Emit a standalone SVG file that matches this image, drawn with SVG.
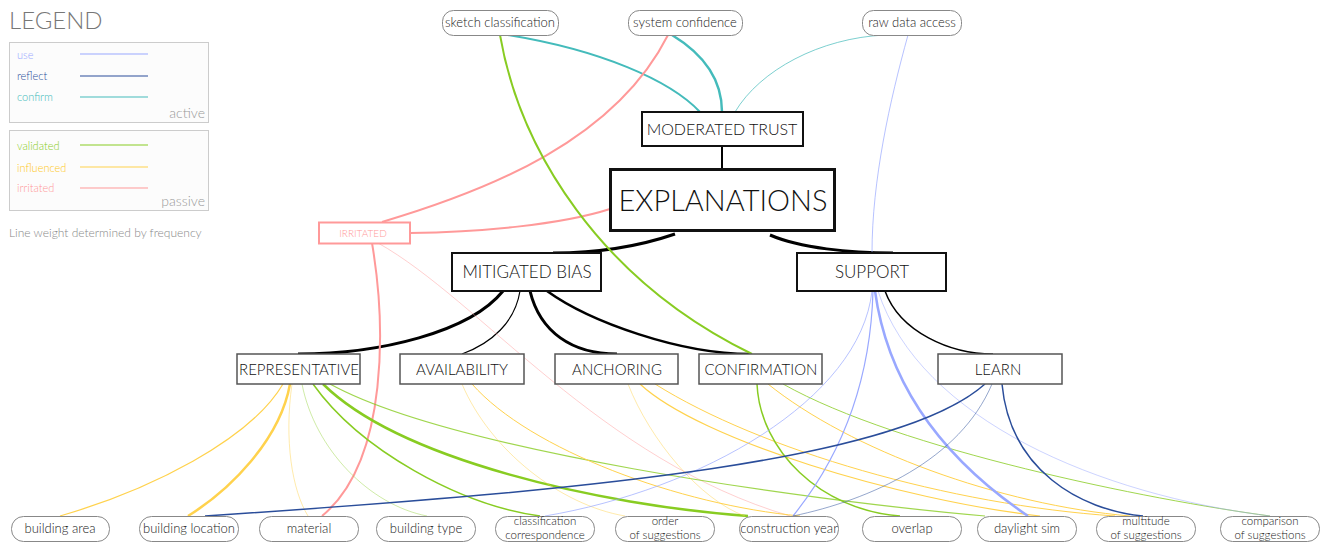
<svg xmlns="http://www.w3.org/2000/svg" width="1327" height="542" viewBox="0 0 1327 542">
<style>
text{font-family:Lato,"Open Sans","Liberation Sans",sans-serif;font-weight:300}
.pill rect{fill:#fff;stroke:#888;stroke-width:1}
.pill text{font-size:13px;fill:#222;text-anchor:middle}
.pill text.two{font-size:11.5px}
.box rect{fill:#fff;stroke:#111;stroke-width:2}
.box text{fill:#111;text-anchor:middle}
.mid rect{fill:#fff;stroke:#555;stroke-width:1.5}
.mid text{font-size:15px;fill:#111;text-anchor:middle}
.c path{fill:none}
.blk{stroke:#000}
.use{stroke:#99a8ff}
.refl{stroke:#2a4d9a}
.conf{stroke:#44bbbb}
.val{stroke:#88cc22}
.inf{stroke:#ffd24d}
.irr{stroke:#ff9999}
.lg{font-size:11px}
</style>
<g id="legend">
<text x="9" y="29" style="font-size:24px;fill:#777">LEGEND</text>
<rect x="9.5" y="42.5" width="199" height="80" fill="#fcfcfc" stroke="#ccc"/>
<text x="17" y="59" class="lg" fill="#99a8ff">use</text>
<line x1="80" y1="54" x2="148" y2="54" class="use"/>
<text x="17" y="80" class="lg" fill="#2a4d9a">reflect</text>
<line x1="80" y1="76" x2="148" y2="76" class="refl"/>
<text x="17" y="101" class="lg" fill="#44bbbb">confirm</text>
<line x1="80" y1="97" x2="148" y2="97" class="conf"/>
<text x="205" y="118" style="font-size:14px;fill:#999;text-anchor:end">active</text>
<rect x="9.5" y="130.5" width="199" height="80" fill="#fcfcfc" stroke="#ccc"/>
<text x="17" y="150" class="lg" fill="#88cc22">validated</text>
<line x1="80" y1="145" x2="148" y2="145" class="val"/>
<text x="17" y="172" class="lg" fill="#ffc820">influenced</text>
<line x1="80" y1="167" x2="148" y2="167" class="inf"/>
<text x="17" y="192" class="lg" fill="#ff9999">irritated</text>
<line x1="80" y1="188" x2="148" y2="188" class="irr"/>
<text x="205" y="206" style="font-size:14px;fill:#999;text-anchor:end">passive</text>
<text x="9" y="237" style="font-size:12px;fill:#888">Line weight determined by frequency</text>
</g>
<g id="connectors" class="c">
<path class="blk" stroke-width="2" d="M722,146 L722,169"/>
<path class="blk" stroke-width="3" d="M675,234 C640,246 600,253 553,253"/>
<path class="blk" stroke-width="3" d="M770,235 C800,248 850,253 893,253"/>
<path class="blk" stroke-width="3" d="M503,291 C470,332 380,354 298,354"/>
<path class="blk" stroke-width="1.2" d="M520,291 C515,322 492,343 462,354"/>
<path class="blk" stroke-width="3" d="M530,291 C540,332 572,354 617,354"/>
<path class="blk" stroke-width="2.5" d="M547,291 C590,322 680,354 750,354"/>
<path class="blk" stroke-width="1.5" d="M885,291 C900,332 950,354 993,354"/>
<path class="conf" stroke-width="2" d="M508,35 C600,50 670,80 700,112"/>
<path class="conf" stroke-width="2.5" d="M672,35 C705,55 722,80 722,112"/>
<path class="conf" stroke-width="1" stroke-opacity="0.7" d="M885,35 C820,38 760,70 735,112"/>
<path class="irr" stroke-width="2" d="M668,35 C615,140 490,190 382,222"/>
<path class="irr" stroke-width="2" d="M610,209 C560,225 480,232 410,233"/>
<path class="irr" stroke-width="2" d="M372,243 C385,320 390,460 322,516"/>
<path class="irr" stroke-width="0.8" stroke-opacity="0.6" d="M378,243 C480,300 600,460 790,516"/>
<path class="val" stroke-width="2" d="M500,35 C520,150 600,280 752,354"/>
<path class="inf" stroke-width="1.2" d="M283,384 C250,440 150,490 60,516"/>
<path class="inf" stroke-width="2.5" d="M290,384 C280,440 230,490 188,516"/>
<path class="inf" stroke-width="0.8" stroke-opacity="0.6" d="M292,384 C284,440 292,490 308,516"/>
<path class="val" stroke-width="0.8" stroke-opacity="0.5" d="M302,384 C315,450 370,505 427,516"/>
<path class="val" stroke-width="1.5" d="M313,384 C360,450 460,505 540,516"/>
<path class="val" stroke-width="2.5" d="M323,384 C400,460 600,505 748,516"/>
<path class="val" stroke-width="1.2" stroke-opacity="0.8" d="M330,384 C450,450 800,500 985,516"/>
<path class="inf" stroke-width="0.8" stroke-opacity="0.6" d="M462,384 C490,450 560,505 625,516"/>
<path class="inf" stroke-width="1" d="M472,384 C530,450 680,505 800,516"/>
<path class="inf" stroke-width="0.8" stroke-opacity="0.6" d="M628,384 C650,440 700,500 745,516"/>
<path class="inf" stroke-width="1.2" d="M640,384 C700,440 900,500 1040,516"/>
<path class="inf" stroke-width="1" d="M655,384 C760,450 950,505 1115,516"/>
<path class="val" stroke-width="1.5" d="M757,384 C760,450 820,510 900,516"/>
<path class="inf" stroke-width="1" d="M768,384 C850,450 1000,505 1130,516"/>
<path class="val" stroke-width="1" stroke-opacity="0.8" d="M783,384 C900,450 1150,500 1270,516"/>
<path class="use" stroke-width="1" stroke-opacity="0.7" d="M908,35 C890,100 872,180 872,253"/>
<path class="use" stroke-width="1" stroke-opacity="0.7" d="M872,291 C860,400 700,490 545,516"/>
<path class="use" stroke-width="1.2" d="M873,291 C870,400 830,470 793,516"/>
<path class="use" stroke-width="2.5" stroke="#8899ff" d="M875,291 C890,400 960,470 1028,516"/>
<path class="use" stroke-width="1" stroke-opacity="0.5" d="M878,291 C920,420 1100,495 1270,516"/>
<path class="refl" stroke-width="1.5" d="M985,384 C900,460 600,490 205,516"/>
<path class="refl" stroke-width="1" stroke-opacity="0.5" d="M992,384 C960,460 870,500 793,516"/>
<path class="refl" stroke-width="1.5" d="M1002,384 C1010,470 1080,510 1143,516"/>
</g>
<g id="n-sketch" class="pill"><rect x="442.5" y="10.5" width="116" height="25" rx="11"/><text x="500" y="27">sketch classification</text></g>
<g id="n-sysconf" class="pill"><rect x="628.5" y="10.5" width="114" height="25" rx="11"/><text x="685" y="27">system confidence</text></g>
<g id="n-raw" class="pill"><rect x="862.5" y="10.5" width="99" height="25" rx="11"/><text x="912" y="27">raw data access</text></g>
<g id="n-trust" class="box"><rect x="642" y="112" width="161" height="34"/><text x="722" y="135" style="font-size:16px">MODERATED TRUST</text></g>
<g id="n-expl" class="box"><rect x="610.5" y="169.5" width="224" height="61" style="stroke-width:3"/><text x="723" y="211" style="font-size:29px">EXPLANATIONS</text></g>
<g id="n-irritated"><rect x="319" y="222.5" width="91" height="21" fill="#fff" stroke="#ff9999" stroke-width="2"/><text x="363" y="237" style="font-size:10px;fill:#ff9999;text-anchor:middle">IRRITATED</text></g>
<g id="n-bias" class="box"><rect x="452" y="253" width="149" height="38"/><text x="527" y="278" style="font-size:17px">MITIGATED BIAS</text></g>
<g id="n-support" class="box"><rect x="797" y="253" width="149" height="38"/><text x="872" y="278" style="font-size:17px">SUPPORT</text></g>
<g id="n-repr" class="mid"><rect x="237" y="354" width="123" height="30"/><text x="299" y="375">REPRESENTATIVE</text></g>
<g id="n-avail" class="mid"><rect x="400" y="354" width="124" height="30"/><text x="462" y="375">AVAILABILITY</text></g>
<g id="n-anch" class="mid"><rect x="555" y="354" width="123" height="30"/><text x="617" y="375">ANCHORING</text></g>
<g id="n-confirm" class="mid"><rect x="699" y="354" width="123" height="30"/><text x="761" y="375">CONFIRMATION</text></g>
<g id="n-learn" class="mid"><rect x="938" y="354" width="124" height="30"/><text x="998" y="375">LEARN</text></g>
<g id="n-barea" class="pill"><rect x="11.5" y="516.5" width="98" height="25" rx="12"/><text x="60" y="533">building area</text></g>
<g id="n-bloc" class="pill"><rect x="139.5" y="516.5" width="99" height="25" rx="12"/><text x="189" y="533">building location</text></g>
<g id="n-material" class="pill"><rect x="259.5" y="516.5" width="99" height="25" rx="12"/><text x="309" y="533">material</text></g>
<g id="n-btype" class="pill"><rect x="376.5" y="516.5" width="99" height="25" rx="12"/><text x="426" y="533">building type</text></g>
<g id="n-classcorr" class="pill"><rect x="495.5" y="516.5" width="99" height="25" rx="12"/><text class="two" x="545" y="525">classification</text><text class="two" x="545" y="539">correspondence</text></g>
<g id="n-order" class="pill"><rect x="615.5" y="516.5" width="99" height="25" rx="12"/><text class="two" x="665" y="525">order</text><text class="two" x="665" y="539">of suggestions</text></g>
<g id="n-cyear" class="pill"><rect x="739.5" y="516.5" width="99" height="25" rx="12"/><text x="789" y="533">construction year</text></g>
<g id="n-overlap" class="pill"><rect x="862.5" y="516.5" width="99" height="25" rx="12"/><text x="912" y="533">overlap</text></g>
<g id="n-daylight" class="pill"><rect x="977.5" y="516.5" width="99" height="25" rx="12"/><text x="1027" y="533">daylight sim</text></g>
<g id="n-multi" class="pill"><rect x="1096.5" y="516.5" width="99" height="25" rx="12"/><text class="two" x="1146" y="525">multitude</text><text class="two" x="1146" y="539">of suggestions</text></g>
<g id="n-compar" class="pill"><rect x="1220.5" y="516.5" width="99" height="25" rx="12"/><text class="two" x="1270" y="525">comparison</text><text class="two" x="1270" y="539">of suggestions</text></g>
</svg>
